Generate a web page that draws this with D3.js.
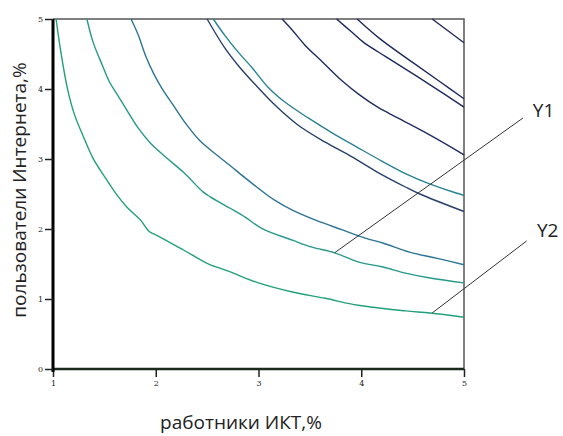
<!DOCTYPE html>
<html><head><meta charset="utf-8">
<script src="https://cdn.jsdelivr.net/npm/d3@7"></script>
<style>body{margin:0;background:#fff}svg{display:block}</style>
</head><body>
<svg id="c" width="563" height="436"></svg>
<script>
// ---- data ----
const xTicks = [1, 2, 3, 4, 5];
const yTicks = [0, 1, 2, 3, 4, 5];
const iso1 = [[1.03,5.0],[1.07,4.59],[1.14,4.01],[1.21,3.63],[1.29,3.34],[1.39,3.01],[1.51,2.73],[1.62,2.49],[1.72,2.31],[1.85,2.13],[1.94,1.96],[2.01,1.91],[2.27,1.70],[2.50,1.51],[2.72,1.39],[3.00,1.23],[3.33,1.10],[3.65,1.01],[3.97,0.91],[4.43,0.83],[4.67,0.80],[5.0,0.74]];
const iso2 = [[1.33,5.0],[1.39,4.67],[1.48,4.34],[1.55,4.10],[1.63,3.91],[1.73,3.67],[1.83,3.44],[1.94,3.24],[2.07,3.06],[2.27,2.81],[2.46,2.53],[2.53,2.46],[2.72,2.30],[2.87,2.17],[3.03,2.01],[3.33,1.84],[3.52,1.74],[3.74,1.66],[3.97,1.53],[4.20,1.46],[4.43,1.37],[4.67,1.30],[5.0,1.23]];
const iso3 = [[1.76,5.0],[1.83,4.77],[1.90,4.48],[1.98,4.22],[2.06,4.01],[2.17,3.77],[2.30,3.49],[2.43,3.26],[2.60,3.05],[2.72,2.91],[2.87,2.73],[3.08,2.49],[3.16,2.41],[3.33,2.27],[3.55,2.13],[3.81,1.99],[4.04,1.87],[4.21,1.80],[4.47,1.67],[4.74,1.58],[5.0,1.49]];
const iso4 = [[2.50,5.0],[2.67,4.59],[2.80,4.34],[2.97,4.06],[3.16,3.77],[3.38,3.49],[3.65,3.24],[3.91,3.03],[4.16,2.81],[4.43,2.60],[4.57,2.50],[5.0,2.25]];
const iso5 = [[2.56,5.0],[2.67,4.77],[2.80,4.53],[2.94,4.30],[3.09,4.03],[3.26,3.81],[3.48,3.59],[3.72,3.37],[3.97,3.16],[4.20,2.97],[4.43,2.79],[4.67,2.64],[5.0,2.48]];
const iso6 = [[3.23,5.0],[3.33,4.84],[3.45,4.63],[3.62,4.39],[3.81,4.12],[3.97,3.93],[4.16,3.74],[4.35,3.59],[4.67,3.34],[5.0,3.06]];
const iso7 = [[3.76,5.0],[3.91,4.81],[4.02,4.67],[4.23,4.47],[4.35,4.36],[4.67,4.06],[5.0,3.74]];
const iso8 = [[3.96,5.0],[4.18,4.72],[4.50,4.38],[4.77,4.10],[5.0,3.86]];
const iso9 = [[4.69,5.0],[5.0,4.66]];
const curveColors = ["#22a07c","#27998a","#2d7496","#26406c","#2a8295","#1f2d62","#1e2a5e","#1e2a5e","#1e2a5e"];
const curves = [iso1, iso2, iso3, iso4, iso5, iso6, iso7, iso8, iso9];
const labelY1 = {text:"Y1", from:[3.74,1.66], to:[5.574,3.586], at:[5.67,3.60]};
const labelY2 = {text:"Y2", from:[4.69,0.80], to:[5.61,1.83], at:[5.71,1.89]};
const xTitle = "работники ИКТ,%";
const yTitle = "пользователи Интернета,%";

// ---- drawing ----
const svg = d3.select("#c");
const x = d3.scaleLinear().domain([1,5]).range([53,464]);
const y = d3.scaleLinear().domain([0,5]).range([369,19]);

// frame (top/right)
svg.append("path").attr("d",`M${x(1)},${y(5)}H${x(5)}V${y(0)}`)
  .attr("fill","none").attr("stroke","#555").attr("stroke-width",1.5);

const line = d3.line().x(d=>x(d[0])).y(d=>y(d[1])).curve(d3.curveCatmullRom.alpha(0.5));
curves.forEach((c,i)=>{
  svg.append("path").attr("d",line(c)).attr("fill","none")
    .attr("stroke",curveColors[i]).attr("stroke-width",1.4);
});

// leader lines
[labelY1,labelY2].forEach(l=>{
  svg.append("line").attr("x1",x(l.from[0])).attr("y1",y(l.from[1]))
    .attr("x2",x(l.to[0])).attr("y2",y(l.to[1]))
    .attr("stroke","#333").attr("stroke-width",1);
  svg.append("text").attr("x",x(l.at[0])).attr("y",y(l.at[1]))
    .attr("font-family","Open Sans, sans-serif").attr("font-size",19)
    .attr("fill","#222").text(l.text);
});

// axes
const xAxis = d3.axisBottom(x).tickValues(xTicks).tickSize(8).tickPadding(3).tickFormat(d3.format("d"));
const yAxis = d3.axisLeft(y).tickValues(yTicks).tickSize(8).tickPadding(2).tickFormat(d3.format("d"));
const gx = svg.append("g").attr("transform",`translate(0,${y(0)})`).call(xAxis);
const gy = svg.append("g").attr("transform",`translate(${x(1)},0)`).call(yAxis);
gx.select(".domain").attr("stroke","#1a2a1a").attr("stroke-width",2.5).attr("d",`M${x(1)},0H${x(5)}`);
gy.select(".domain").attr("stroke","#000").attr("stroke-width",3).attr("d",`M0,${y(5)}V${y(0)+3}`);
[gx,gy].forEach(g=>{
  g.selectAll(".tick line").attr("stroke","#222").attr("stroke-width",1.5);
  g.selectAll(".tick text").attr("font-family","DejaVu Serif, serif").attr("font-size",8).attr("fill","#222");
});

svg.append("text").attr("x",241).attr("y",429).attr("text-anchor","middle")
  .attr("font-family","Open Sans, sans-serif").attr("font-size",19).attr("fill","#222").text(xTitle);
svg.append("text").attr("transform","translate(26,190) rotate(-90)").attr("text-anchor","middle")
  .attr("font-family","Open Sans, sans-serif").attr("font-size",19).attr("fill","#222").text(yTitle);
</script>
</body></html>
